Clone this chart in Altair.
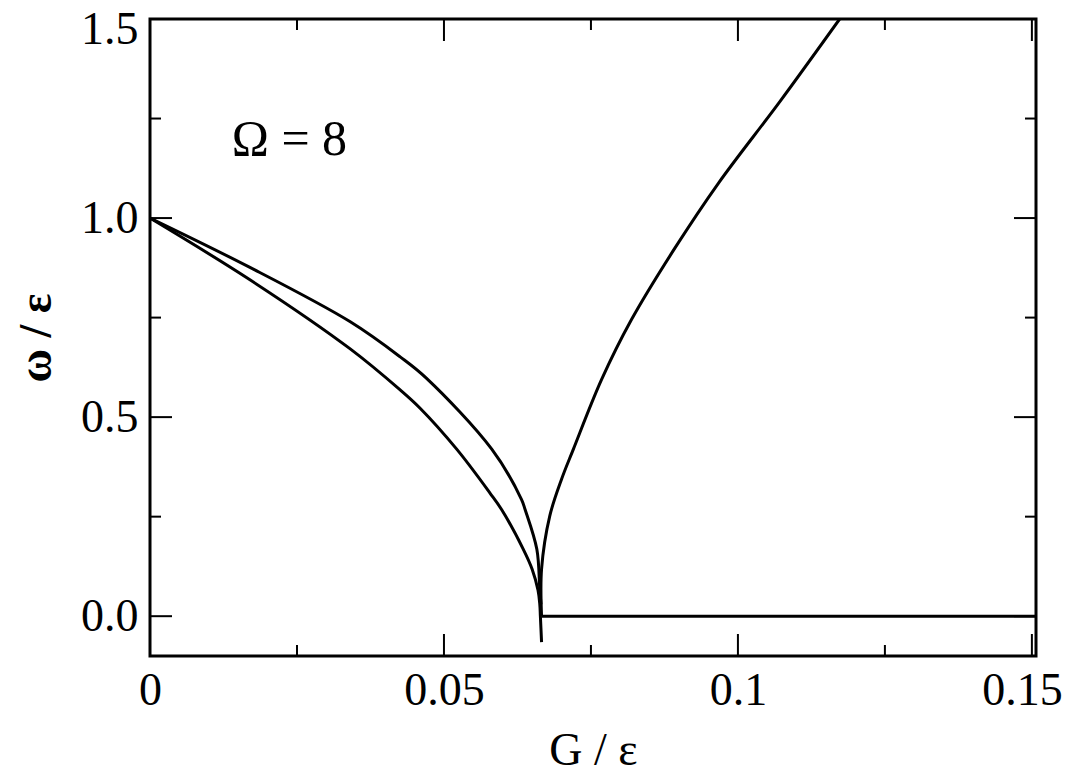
import altair as alt
import pandas as pd

# ---- data ----
branch_a_g = [0.0, 0.0170, 0.0340, 0.0425, 0.0459, 0.0522, 0.0578, 0.0598, 0.0635, 0.0650, 0.0660, 0.0663, 0.0664, 0.0666]
branch_a_w = [1.0, 0.845, 0.672, 0.569, 0.523, 0.419, 0.310, 0.268, 0.168, 0.118, 0.065, 0.030, 0.0, -0.065]

branch_b_g = [0.0, 0.0170, 0.0340, 0.0425, 0.0470, 0.0581, 0.0632, 0.0638, 0.0658, 0.0663, 0.0665]
branch_b_w = [1.0, 0.876, 0.740, 0.652, 0.598, 0.420, 0.293, 0.268, 0.168, 0.068, 0.030]

branch_c_g = [0.0666, 0.0666, 0.0680, 0.0700, 0.0720, 0.0768, 0.0819, 0.0893, 0.0967, 0.1071, 0.1173]
branch_c_w = [0.0, 0.118, 0.252, 0.344, 0.419, 0.594, 0.745, 0.925, 1.088, 1.292, 1.500]

zero_g = [0.0666, 0.1507]
zero_w = [0.0, 0.0]

x_major = [0.0, 0.05, 0.1, 0.15]
x_minor = [0.025, 0.075, 0.125]
y_major = [0.0, 0.5, 1.0, 1.5]
y_minor = [0.25, 0.75, 1.25]

label_text = ["\u03a9 = 8"]
label_g = [0.0139]
label_w = [1.159]

X_DOMAIN = [0.0, 0.1507]
Y_DOMAIN = [-0.1, 1.5]
W, H = 886, 637
FONT = "Liberation Serif"

rows = []
for name, gs, ws in [("A", branch_a_g, branch_a_w), ("B", branch_b_g, branch_b_w),
                     ("C", branch_c_g, branch_c_w), ("Z", zero_g, zero_w)]:
    for i, (g, w) in enumerate(zip(gs, ws)):
        rows.append({"series": name, "G": g, "w": w, "i": i})
df = pd.DataFrame(rows)

xs = alt.Scale(domain=X_DOMAIN, nice=False, zero=False)
ys = alt.Scale(domain=Y_DOMAIN, nice=False, zero=False)

x_axis = alt.Axis(values=x_major, format="~g", domain=False, ticks=False, grid=False,
                  labelFont=FONT, labelFontSize=46, labelColor="black", labelPadding=12,
                  labelFlush=False, labelOverlap=False,
                  labelOffset={"condition": {"test": "datum.value >= 0.15", "value": -10}, "value": 0},
                  title="G / \u03b5", titleFont=FONT, titleFontSize=46, titleFontWeight="normal",
                  titleColor="black", titleY=108, titleBaseline="alphabetic")
y_axis = alt.Axis(values=y_major, format=".1f", domain=False, ticks=False, grid=False,
                  labelFont=FONT, labelFontSize=46, labelColor="black", labelPadding=12,
                  labelFlush=False, labelOverlap=False,
                  labelOffset={"condition": {"test": "datum.value >= 1.5", "value": 10}, "value": 0},
                  title="\u03c9 / \u03b5", titleFont=FONT, titleFontSize=46, titleFontWeight="bold",
                  titleColor="black", titleX=-100, titleY=H / 2, titleAngle=-90,
                  titleAlign="center", titleBaseline="alphabetic")

lines = alt.Chart(df).mark_line(color="black", strokeWidth=3, clip=True,
                                interpolate="catmull-rom").encode(
    x=alt.X("G:Q", scale=xs, axis=x_axis),
    y=alt.Y("w:Q", scale=ys, axis=y_axis),
    detail="series:N",
    order="i:Q",
)

xmaj = pd.DataFrame({"G": x_major})
xmin = pd.DataFrame({"G": x_minor})
ymaj = pd.DataFrame({"w": y_major})
ymin = pd.DataFrame({"w": y_minor})

def xticks(d, length):
    bot = alt.Chart(d).mark_rule(color="black", strokeWidth=2).encode(
        x=alt.X("G:Q", scale=xs), y=alt.value(H), y2=alt.value(H - length))
    top = alt.Chart(d).mark_rule(color="black", strokeWidth=2).encode(
        x=alt.X("G:Q", scale=xs), y=alt.value(0), y2=alt.value(length))
    return [bot, top]

def yticks(d, length):
    left = alt.Chart(d).mark_rule(color="black", strokeWidth=2).encode(
        y=alt.Y("w:Q", scale=ys), x=alt.value(0), x2=alt.value(length))
    right = alt.Chart(d).mark_rule(color="black", strokeWidth=2).encode(
        y=alt.Y("w:Q", scale=ys), x=alt.value(W), x2=alt.value(W - length))
    return [left, right]

ticks = xticks(xmaj, 22) + xticks(xmin, 11) + yticks(ymaj, 22) + yticks(ymin, 11)

label = alt.Chart(pd.DataFrame({"t": label_text, "G": label_g, "w": label_w})).mark_text(
    font=FONT, fontSize=50, color="black", align="left", baseline="alphabetic").encode(
    x=alt.X("G:Q", scale=xs), y=alt.Y("w:Q", scale=ys), text="t:N")

chart = alt.layer(lines, *ticks, label).properties(
    width=W, height=H,
    autosize=alt.AutoSizeParams(type="none"),
    padding={"left": 142, "top": 11, "right": 30, "bottom": 117},
).configure(
    background="white",
    view=alt.ViewConfig(stroke="black", strokeWidth=3),
)

chart.save("out.html", embed_options={"renderer": "svg", "actions": False})
